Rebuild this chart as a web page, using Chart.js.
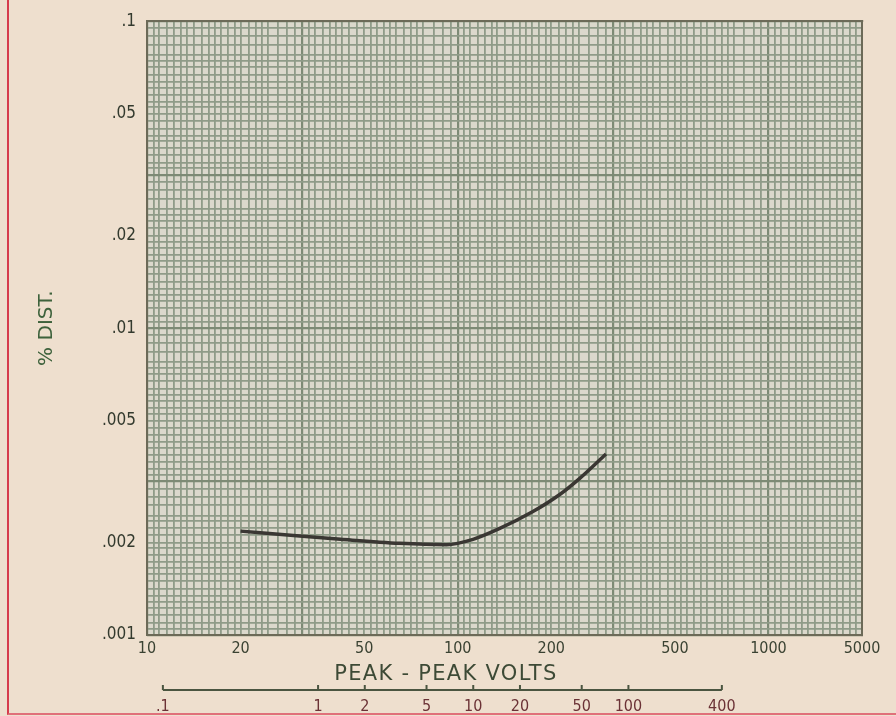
<!DOCTYPE html>
<html>
<head>
<meta charset="utf-8">
<script src="https://cdn.jsdelivr.net/npm/chart.js@4.4.0/dist/chart.umd.min.js"></script>
<style>
  html, body { margin: 0; padding: 0; background: #eedfce; }
  #wrap { position: relative; width: 896px; height: 716px; overflow: hidden; }
  #frame { position: absolute; left: 7px; top: -2px; width: 895px; height: 715px;
           border-left: 2px solid #d63c4c; border-bottom: 2px solid #e0707a; pointer-events: none; }
  canvas { display: block; }
</style>
</head>
<body>
<div id="wrap">
  <canvas id="c" width="896" height="716"></canvas>
  <div id="frame"></div>
</div>
<script>
// ---- data ----
const peakPeakVolts = [20, 31, 42, 65, 92, 112, 136, 174, 213, 247, 300];
const distortionPct = [0.00218, 0.00210, 0.00205, 0.00199, 0.00197, 0.00205, 0.00222, 0.00252, 0.00287, 0.00324, 0.00389];

// primary x axis (peak-peak volts)
const xTickValues = [10, 20, 50, 100, 200, 500, 1000, 2000];
const xTickLabels = ['10', '20', '50', '100', '200', '500', '1000', '5000'];
// y axis (% distortion)
const yTickValues = [0.001, 0.002, 0.005, 0.01, 0.02, 0.05, 0.1];
const yTickLabels = ['.001', '.002', '.005', '.01', '.02', '.05', '.1'];
// secondary scale under the axis title
const secTickValues = [0.1, 1, 2, 5, 10, 20, 50, 100, 400];
const secTickLabels = ['.1', '1', '2', '5', '10', '20', '50', '100', '400'];

const xTitle = 'PEAK - PEAK VOLTS';
const yTitle = '% DIST.';

// ---- graph-paper grid (log paper, half-decade cycles) ----
const gridMantissas = [1, 1.1, 1.2, 1.35, 1.5, 1.65, 1.8, 2, 2.25, 2.5, 2.75, 3, 3.33, 3.67, 4, 4.5, 5, 5.5, 6, 7, 8, 9];
function paperTicks(min, max) {
  const out = [];
  for (let c = 0; c < 20; c++) {
    const base = min * Math.pow(10, c / 2);
    if (base > max * 1.0001) break;
    for (const m of gridMantissas) {
      const v = base * Math.sqrt(m);
      if (v > max * 1.0001) break;
      out.push({ value: v, major: m === 1 });
    }
  }
  return out;
}

const numFont = { family: "'DejaVu Sans Condensed', 'DejaVu Sans', sans-serif", size: 16 };
const gridColor = ctx => (ctx.tick && ctx.tick.major) ? '#7d8a75' : '#8f9b88';
const gridWidth = ctx => (ctx.tick && ctx.tick.major) ? 2.2 : 1.8;
const frameBorder = { display: true, color: '#6c6a58', width: 2 };

const bgPlugin = {
  id: 'paper',
  beforeDraw(chart) {
    const { ctx, chartArea: a } = chart;
    ctx.save();
    ctx.fillStyle = '#eedfce';
    ctx.fillRect(0, 0, chart.width, chart.height);
    ctx.fillStyle = '#dbd8cc';
    ctx.fillRect(a.left, a.top, a.right - a.left, a.bottom - a.top);
    ctx.restore();
  },
  afterDraw(chart) {
    const { ctx } = chart;
    const s2 = chart.scales.x2;
    const sx = chart.scales.x;
    ctx.save();
    // secondary scale line with tick marks
    const p0 = s2.getPixelForValue(secTickValues[0]);
    const p1 = s2.getPixelForValue(secTickValues[secTickValues.length - 1]);
    const y = s2.top;
    ctx.strokeStyle = '#4a5540';
    ctx.lineWidth = 2;
    ctx.beginPath();
    ctx.moveTo(p0, y); ctx.lineTo(p1, y);
    for (const v of secTickValues) {
      const p = s2.getPixelForValue(v);
      ctx.moveTo(p, y); ctx.lineTo(p, y - 5);
    }
    ctx.stroke();
    // axis title
    ctx.fillStyle = '#3d4a36';
    ctx.font = "21px 'DejaVu Sans', sans-serif";
    try { ctx.letterSpacing = '1.3px'; } catch (e) {}
    ctx.textAlign = 'center';
    ctx.textBaseline = 'middle';
    ctx.fillText(xTitle, sx.left + sx.width * 0.418, sx.top + 40);
    ctx.restore();
  }
};

new Chart(document.getElementById('c'), {
  type: 'line',
  data: {
    datasets: [{
      data: peakPeakVolts.map((v, i) => ({ x: v, y: distortionPct[i] })),
      borderColor: '#3a3733',
      borderWidth: 3.5,
      pointRadius: 0,
      tension: 0.4,
      cubicInterpolationMode: 'monotone',
      xAxisID: 'x',
      yAxisID: 'y'
    }]
  },
  options: {
    responsive: false,
    animation: false,
    layout: { padding: { left: 0, right: 34, top: 15, bottom: 0 } },
    plugins: { legend: { display: false }, tooltip: { enabled: false } },
    scales: {
      xg: {
        type: 'logarithmic', position: 'top', min: 10, max: 2000,
        afterBuildTicks: s => { s.ticks = paperTicks(10, 2000); },
        afterFit: s => { s.height = 0; },
        ticks: { display: false },
        grid: { drawTicks: false, color: gridColor, lineWidth: gridWidth },
        border: frameBorder
      },
      yg: {
        type: 'logarithmic', position: 'right', min: 0.001, max: 0.1,
        afterBuildTicks: s => { s.ticks = paperTicks(0.001, 0.1); },
        afterFit: s => { s.width = 0; },
        ticks: { display: false },
        grid: { drawTicks: false, color: gridColor, lineWidth: gridWidth },
        border: frameBorder
      },
      x: {
        type: 'logarithmic', position: 'bottom', min: 10, max: 2000, weight: 0,
        afterBuildTicks: s => { s.ticks = xTickValues.map(v => ({ value: v })); },
        afterFit: s => { s.height = 55; },
        ticks: {
          autoSkip: false, maxRotation: 0, minRotation: 0, padding: 4,
          color: '#3a4232', font: numFont,
          callback: (v, i) => xTickLabels[i]
        },
        grid: { display: false, drawTicks: false },
        border: frameBorder
      },
      x2: {
        type: 'logarithmic', position: 'bottom', min: 0.079, max: 3200, weight: 1,
        afterBuildTicks: s => { s.ticks = secTickValues.map(v => ({ value: v })); },
        afterFit: s => { s.height = 26; },
        ticks: {
          autoSkip: false, maxRotation: 0, minRotation: 0, padding: 7,
          color: '#6b3236', font: numFont,
          callback: (v, i) => secTickLabels[i]
        },
        grid: { display: false, drawTicks: false },
        border: { display: false }
      },
      y: {
        type: 'logarithmic', position: 'left', min: 0.001, max: 0.1,
        afterBuildTicks: s => { s.ticks = yTickValues.map(v => ({ value: v })); },
        afterFit: s => { s.width = 147; },
        ticks: {
          autoSkip: false, padding: 11, color: '#333a2e',
          font: { family: numFont.family, size: 17 },
          callback: (v, i) => yTickLabels[i]
        },
        title: {
          display: true, text: yTitle, color: '#3e623c',
          font: { family: "'DejaVu Sans', sans-serif", size: 20 },
          padding: { top: 35, bottom: 0 }
        },
        grid: { display: false, drawTicks: false },
        border: frameBorder
      }
    }
  },
  plugins: [bgPlugin]
});
</script>
</body>
</html>
